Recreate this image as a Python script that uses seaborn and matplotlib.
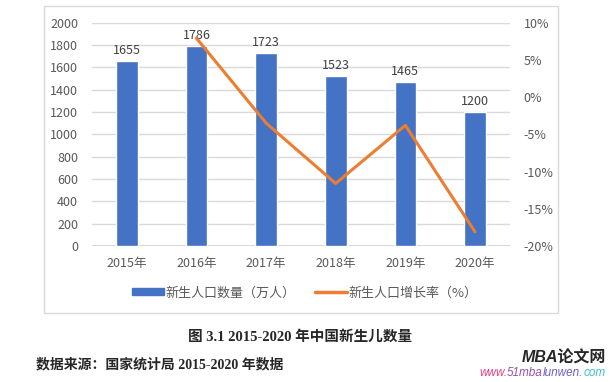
import seaborn as sns
import matplotlib.pyplot as plt
import matplotlib.patches as mpatches
from matplotlib.lines import Line2D
from matplotlib.text import Annotation
import pandas as pd

# data
years = ['2015年', '2016年', '2017年', '2018年', '2019年', '2020年']
births = [1655, 1786, 1723, 1523, 1465, 1200]
rate_years = ['2016年', '2017年', '2018年', '2019年', '2020年']
rates = [7.9, -3.5, -11.6, -3.8, -18.1]

left_ticks = [0, 200, 400, 600, 800, 1000, 1200, 1400, 1600, 1800, 2000]
right_ticks = [-20, -15, -10, -5, 0, 5, 10]

bar_name = '新生人口数量（万人）'
line_name = '新生人口增长率（%）'
caption = '图 3.1 2015-2020 年中国新生儿数量'
source = '数据来源：国家统计局 2015-2020 年数据'

sns.set_theme(style='white')
plt.rcParams['font.family'] = ['Noto Sans CJK SC', 'DejaVu Sans']

blue = '#4472C4'
orange = '#ED7D31'
grey = '#595959'

fig = plt.figure(figsize=(6.1, 3.82), dpi=100)
ax = fig.add_axes([0.1508, 0.356, 0.685, 0.585])

df = pd.DataFrame({'year': years, 'births': births})
sns.barplot(data=df, x='year', y='births', color=blue, width=0.31,
            saturation=1, ax=ax, zorder=2)
ax.bar_label(ax.containers[0], fmt='%d', padding=3, fontsize=9, color='#404040')

ax.set_xlim(-0.5, len(years) - 0.5)
ax.set_ylim(0, 2000)
ax.set_yticks(left_ticks)
ax.yaxis.grid(True, color='#D9D9D9', lw=1)
ax.set_axisbelow(True)
for s in ax.spines.values():
    s.set_visible(False)
ax.axhline(0, color='#D0D0D0', lw=1.2, zorder=1)
ax.set_xlabel('')
ax.set_ylabel('')
ax.tick_params(axis='both', length=0, labelsize=9, labelcolor=grey)
ax.tick_params(axis='x', pad=8)
ax.tick_params(axis='y', pad=10)

ax2 = ax.twinx()
rate_x = [years.index(y) for y in rate_years]
sns.lineplot(x=rate_x, y=rates, color=orange, lw=2.2, ax=ax2, zorder=3)
ax2.set_ylim(-20, 10)
ax2.set_yticks(right_ticks)
ax2.set_yticklabels([f'{t}%' for t in right_ticks])
for s in ax2.spines.values():
    s.set_visible(False)
ax2.tick_params(axis='y', length=0, labelsize=9, labelcolor=grey, pad=10)
ax2.set_xlim(-0.5, len(years) - 0.5)

# outer chart frame
fig.patches.append(mpatches.Rectangle((44 / 610, 1 - 313 / 382), 514 / 610, 307 / 382,
                                      transform=fig.transFigure, fill=False,
                                      edgecolor='#D9D9D9', lw=1))

handles = [mpatches.Patch(color=blue), Line2D([0], [0], color=orange, lw=2.5)]
fig.legend(handles, [bar_name, line_name], loc='center', bbox_to_anchor=(0.5, 1 - 293 / 382),
           ncol=2, frameon=False, fontsize=9.4, labelcolor=grey, handlelength=2.4,
           handleheight=0.45, handletextpad=0.15, columnspacing=1.5)

fig.text(0.492, 1 - 337 / 382, caption, ha='center', va='center', fontsize=10.5,
         fontweight='bold', family=['Liberation Serif', 'Noto Sans CJK SC'])
fig.text(36 / 610, 1 - 365 / 382, source, ha='left', va='center', fontsize=10,
         fontweight='bold', family=['Liberation Serif', 'Noto Sans CJK SC'])

# watermark
fig.text(606 / 610, 1 - 358 / 382, 'MBA论文网', ha='right', va='center', fontsize=11.5,
         fontweight='bold', style='italic', family=['Liberation Sans', 'Noto Sans CJK SC'])
prev = fig.text(479 / 610, 1 - 379 / 382, 'www.', ha='left', va='bottom', fontsize=8.5,
                style='italic', color='#E0407F', family='Liberation Sans')
for part, col in [('51mba', '#9A4FB0'), ('lunwen.', '#6A60C8'), ('com', '#3FBFD0')]:
    ann = Annotation(part, xy=(1, 0), xycoords=prev, ha='left', va='bottom', fontsize=8.5,
                     style='italic', color=col, family='Liberation Sans')
    fig.add_artist(ann)
    prev = ann

fig.savefig('out.png', dpi=100)
